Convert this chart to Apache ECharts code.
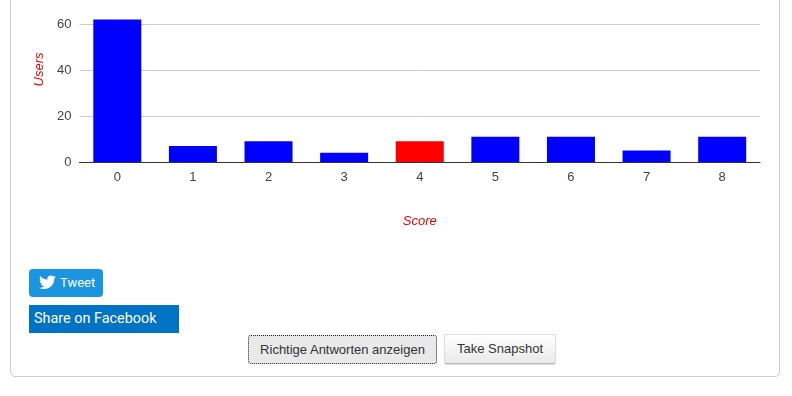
<!DOCTYPE html>
<html>
<head>
<meta charset="utf-8">
<style>
html, body { margin: 0; padding: 0; background: #fff; overflow: hidden; }
#page { position: relative; width: 792px; height: 396px; overflow: hidden; }
#card { position: absolute; left: 10px; top: -20px; width: 768px; height: 395px; border: 1px solid #ccc; border-radius: 5px; }
#chart { position: absolute; left: 0; top: 0; width: 792px; height: 260px; }
.share { position: absolute; left: 29px; color: #fff; box-sizing: border-box; height: 28px; }
#tweet { top: 269px; width: 74px; background: #1b95e0; border-radius: 4px; font: 13px/27px Roboto, sans-serif; padding-left: 31px; }
#tweet svg { position: absolute; left: 10px; top: 6px; }
#fb { top: 305px; width: 150px; background: #0073c5; font: 14.4px/28px Roboto, sans-serif; padding-left: 5px; }
.btn { position: absolute; box-sizing: border-box; text-align: center; color: #333; font: 13px/27px "Liberation Sans", Arial, sans-serif; border-radius: 3px; }
#answers { left: 248px; top: 335px; width: 189px; height: 29px; background: #e9e9e9; border: 1px dotted #222; }
#snapshot { left: 444px; top: 334px; width: 112px; height: 30px; background: linear-gradient(#fff, #e9e9e9); border: 1px solid #ddd; border-bottom-color: #bbb; box-shadow: 0 1px 1px rgba(0,0,0,.15); line-height: 28px; }
</style>
</head>
<body>
<div id="page">
  <div id="card"></div>
  <div id="chart"></div>
  <div id="tweet" class="share">
    <svg width="17" height="15" viewBox="0 0 24 20"><path fill="#fff" d="M24 2.4c-.9.4-1.8.7-2.8.8 1-.6 1.8-1.6 2.2-2.7-1 .6-2 1-3.100 1.200C19.300.7 18 0 16.600 0c-2.700 0-4.900 2.200-4.900 4.900 0 .4 0 .8.100 1.100C7.700 5.800 4.100 3.900 1.700.9c-.4.700-.7 1.600-.7 2.500 0 1.700.9 3.200 2.200 4.100-.8 0-1.600-.2-2.200-.6v.1c0 2.400 1.700 4.400 3.900 4.800-.4.100-.8.200-1.300.2-.3 0-.6 0-.9-.1.600 2 2.400 3.400 4.600 3.400-1.700 1.300-3.800 2.100-6.100 2.100-.4 0-.8 0-1.200-.1C2.200 18.300 4.800 19.100 7.500 19.100c9.100 0 14-7.500 14-14v-.6c1-.7 1.800-1.500 2.500-2.100z"/></svg>
    Tweet
  </div>
  <div id="fb" class="share">Share on Facebook</div>
  <div id="answers" class="btn">Richtige Antworten anzeigen</div>
  <div id="snapshot" class="btn">Take Snapshot</div>
</div>
<script src="https://cdn.jsdelivr.net/npm/echarts@6/dist/echarts.min.js"></script>
<script>
var scores = ['0', '1', '2', '3', '4', '5', '6', '7', '8']
var users = [62, 7, 9, 4, 9, 11, 11, 5, 11]
var correctScore = '4'

var myChart = echarts.init(document.getElementById('chart'))
myChart.setOption({
    animation: false,
    textStyle: { fontFamily: '"Liberation Sans", Arial, sans-serif' },
    grid: { left: 79.5, right: 32, top: 1, height: 161, outerBoundsMode: 'none' },
    xAxis: {
        type: 'category',
        data: scores,
        name: 'Score',
        nameLocation: 'middle',
        nameGap: 53,
        nameTextStyle: { color: '#e00', fontStyle: 'italic', fontSize: 13 },
        axisLine: { lineStyle: { color: '#333' } },
        axisTick: { show: false },
        axisLabel: { color: '#444', fontSize: 13, margin: 9 },
    },
    yAxis: {
        type: 'value',
        min: 0,
        max: 70,
        interval: 20,
        name: 'Users',
        nameLocation: 'middle',
        nameGap: 27,
        nameTextStyle: { color: '#e00', fontStyle: 'italic', fontSize: 13, padding: [0, 0, 0, 24] },
        axisLine: { show: false },
        axisTick: { show: false },
        axisLabel: { color: '#444', fontSize: 13, margin: 8, showMaxLabel: false },
        splitLine: { showMaxLine: false, lineStyle: { color: '#ccc' } },
    },
    series: [{
        type: 'bar',
        barWidth: 48,
        data: users.map(function (v, i) {
            return { value: v, itemStyle: { color: scores[i] === correctScore ? '#f00' : '#00f' } }
        }),
    }],
})
</script>
</body>
</html>
